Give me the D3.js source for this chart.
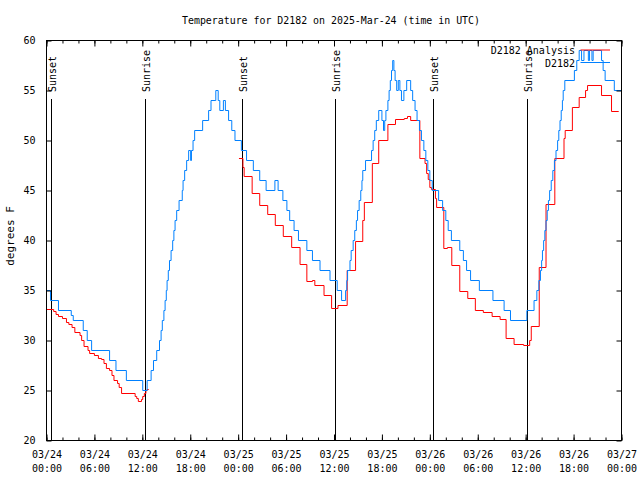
<!DOCTYPE html>
<html><head><meta charset="utf-8">
<script src="https://cdn.jsdelivr.net/npm/d3@7"></script>
<style>body{margin:0;background:#fff}</style>
</head><body>
<svg id="c" width="640" height="480"></svg>
<script>
const title = "Temperature for D2182 on 2025-Mar-24 (time in UTC)";
const yLabel = "degrees F";
const majorHours = [0,6,12,18,24,30,36,42,48,54,60,66,72];
const tickDates = ["03/24","03/24","03/24","03/24","03/25","03/25","03/25","03/25","03/26","03/26","03/26","03/26","03/27"];
const tickTimes = ["00:00","06:00","12:00","18:00","00:00","06:00","12:00","18:00","00:00","06:00","12:00","18:00","00:00"];
const yTicks = [20,25,30,35,40,45,50,55,60];
const sunNames = ["Sunset","Sunrise","Sunset","Sunrise","Sunset","Sunrise"];
const sunHours = [0.53,12.3,24.52,36.17,48.45,60.2];
const seriesNames = ["D2182 Analysis","D2182"];

// observed (hours since 03/24 00:00 UTC, deg F)
const obsHours = [0,0.5,1.5,3.1,3.35,4.6,5.1,5.65,7.9,8.7,10.0,12.05,12.6,13.1,13.4,13.8,14.15,14.35,14.5,14.7,14.85,15.0,15.1,15.25,15.4,15.6,15.8,15.95,16.1,16.3,16.6,17.0,17.1,17.3,17.55,17.8,18.05,18.15,18.35,18.55,19.55,20.3,20.6,21.2,21.5,21.7,22.15,22.4,22.8,23.2,23.6,24.4,25.05,25.9,26.7,27.5,28.6,29.0,29.6,30.1,30.45,31.0,31.55,32.6,33.3,34.25,35.5,36.4,36.95,37.45,37.6,37.7,38.0,38.15,38.4,38.6,38.8,38.95,39.15,39.35,39.5,39.6,39.95,40.7,40.9,41.1,41.3,41.6,42.0,42.2,42.35,42.5,42.75,42.9,43.05,43.2,43.35,43.5,43.65,43.85,44.05,44.25,44.45,44.75,45.1,45.6,45.85,46.15,46.4,46.7,46.95,47.25,47.5,47.75,48.0,48.3,49.1,49.6,50.0,50.3,50.7,51.75,52.2,52.6,53.1,54.2,55.9,57.3,58.1,60.15,61.05,61.4,61.65,61.85,62.0,62.1,62.25,62.4,62.55,62.7,62.85,63.0,63.2,63.4,63.6,63.8,64.0,64.15,64.3,64.45,64.6,64.7,64.9,66.1,66.4,66.7,67.0,67.3,67.85,68.0,68.3,68.45,69.5,69.7,69.95,71.1,72];
const obsTemps = [35,34,33,32.5,32,31,30,29,28,27,26,25,26,27,28,29,30,31,32,33,34,35,36,37,38,39,40,41,42,43,44,45,46,47,48,49,48,49,50,51,52,53,54,55,54,53,54,53,52,51,50,49,48,47,46,45,46,45,44,43,42,41,40,39,38,37,36,35,34,35,36,37,38,39,40,41,42,43,44,45,46,47,48,49,50,51,52,53,52,51,52,53,54,55,56,57,58,57,56,55,56,55,54,55,56,55,54,53,52,51,50,49,48,47,46,45,44,43,42,41,40,39,38,37,36,35,34,33,32,33,34,35,36,37,38,39,40,41,42,43,44,45,46,47,48,49,50,51,52,53,54,55,56,57,58,59,58,59,58,59,58,59,58,57,56,55,55];

// analysis (null = gap)
const anaHours = [0,0.9,1.2,1.5,2.0,2.5,2.8,3.2,3.55,4.2,4.4,4.7,5.2,5.4,6.0,6.5,6.9,7.2,7.5,7.9,8.2,8.45,8.9,9.1,9.4,11.1,11.3,11.5,11.9,12.05,12.25,12.45,12.6,12.8,13,
  24.1,24.6,24.75,25.75,26.7,27.7,28.65,29.65,30.7,31.75,32.6,33.3,33.6,34.75,35.7,36.5,37.65,38.7,39.6,39.8,40.8,41.6,42.75,43.7,44.8,45.2,45.6,46.75,47.4,47.6,47.8,48.0,48.2,48.7,48.85,49.75,50.2,50.75,51.75,52.75,53.7,54.7,55.8,56.8,57.55,58.55,59.75,60.5,60.7,61.7,62.55,63.65,64.8,64.95,65.85,66.7,67.5,67.75,69.5,70.75,71.65];
const anaTemps = [33.1,32.9,32.6,32.4,32.2,31.8,31.6,31.3,30.8,30.5,30.0,29.4,29.0,28.7,28.5,28.2,28.1,27.7,27.2,27.0,26.5,26.0,25.7,25.3,24.7,24.4,24.2,23.9,24.1,24.4,24.7,25.0,25.1,25.1,null,
  48.2,47.3,46.4,44.7,43.5,42.6,41.5,40.4,39.3,37.6,35.9,36.0,35.5,34.5,33.2,33.5,37.0,39.9,42.0,43.8,47.7,50.0,51.6,52.1,52.2,52.4,52.0,48.2,47.7,46.7,46.1,45.3,45.1,44.2,43.3,39.2,39.3,37.5,34.9,34.2,33.0,32.8,32.4,32.1,30.2,29.6,29.5,30.0,31.4,37.3,43.6,48.2,50.2,51.0,53.3,54.3,55.0,55.5,54.5,52.9,52.9];

const colors = {ana: "#ff0000", obs: "#0080ff"};
const FONT = "'DejaVu Sans Mono', monospace";

const svg = d3.select("#c");
const L = 46.5, R = 621.5, T = 40.5, B = 440.5;
const x = d3.scaleLinear().domain([0,72]).range([L,R]);
const y = d3.scaleLinear().domain([20,60]).range([B,T]);

// title
svg.append("text").attr("x", 331).attr("y", 24).attr("text-anchor","middle")
  .attr("font-family", FONT).attr("font-size", 10).attr("textLength", 298)
  .attr("lengthAdjust","spacingAndGlyphs").text(title);

// y label
svg.append("text").attr("transform","translate(14,236) rotate(-90)")
  .attr("text-anchor","middle").attr("font-family", FONT).attr("font-size", 11)
  .text(yLabel);

// sun lines
const sun = svg.append("g");
sun.selectAll("line").data(sunHours).join("line")
  .attr("x1", d => Math.round(x(d))+0.5).attr("x2", d => Math.round(x(d))+0.5)
  .attr("y1", 99).attr("y2", B).attr("stroke","#000").attr("stroke-width",1);
sun.selectAll("text").data(sunHours).join("text")
  .attr("transform", d => `translate(${Math.round(x(d))+5},92) rotate(-90)`)
  .attr("font-family", FONT).attr("font-size", 10)
  .text((d,i) => sunNames[i]);

// data lines
const anaData = anaHours.map((h,i) => ({h, t: anaTemps[i]}));
const obsData = obsHours.map((h,i) => ({h, t: obsTemps[i]}));
const line = d3.line().defined(d => d.t !== null).x(d => x(d.h)).y(d => y(d.t)).curve(d3.curveStepAfter);
svg.append("path").datum(anaData).attr("d", line).attr("fill","none")
  .attr("stroke", colors.ana).attr("stroke-width", 1);
svg.append("path").datum(obsData).attr("d", line).attr("fill","none")
  .attr("stroke", colors.obs).attr("stroke-width", 1);

// axes
function styleAxis(g){
  g.select(".domain").remove();
  g.selectAll("line").attr("stroke","#000");
  g.selectAll("text").attr("font-family", FONT).attr("font-size", 10).attr("fill","#000");
}
const minorHours = d3.range(0,73,2);
svg.append("g").attr("transform",`translate(0,${B})`)
  .call(d3.axisBottom(x).tickValues(minorHours).tickSizeInner(-3).tickSizeOuter(0).tickFormat(""))
  .call(styleAxis);
const bx = svg.append("g").attr("transform",`translate(0,${B})`)
  .call(d3.axisBottom(x).tickValues(majorHours).tickSizeInner(-6).tickSizeOuter(0).tickFormat(""))
  .call(styleAxis);
bx.selectAll(".tick").each(function(d,i){
  const t = d3.select(this).append("text").attr("text-anchor","middle")
    .attr("font-family", FONT).attr("font-size", 10).attr("fill","#000");
  t.append("tspan").attr("x",0).attr("y",17).text(tickDates[i]);
  t.append("tspan").attr("x",0).attr("y",31).text(tickTimes[i]);
});
svg.append("g").attr("transform",`translate(0,${T})`)
  .call(d3.axisTop(x).tickValues(minorHours).tickSizeInner(-3).tickSizeOuter(0).tickFormat(""))
  .call(styleAxis);
svg.append("g").attr("transform",`translate(0,${T})`)
  .call(d3.axisTop(x).tickValues(majorHours).tickSizeInner(-6).tickSizeOuter(0).tickFormat(""))
  .call(styleAxis);
svg.append("g").attr("transform",`translate(${L},0)`)
  .call(d3.axisLeft(y).tickValues(yTicks).tickSizeInner(-5).tickSizeOuter(0).tickPadding(11).tickFormat(d3.format("d")))
  .call(styleAxis);
svg.append("g").attr("transform",`translate(${R},0)`)
  .call(d3.axisRight(y).tickValues(yTicks).tickSizeInner(-5).tickSizeOuter(0).tickFormat(""))
  .call(styleAxis);

// frame
svg.append("rect").attr("x",L).attr("y",T).attr("width",R-L).attr("height",B-T)
  .attr("fill","none").attr("stroke","#000").attr("stroke-width",1);

// legend
const leg = svg.append("g");
const legY = [50, 62.5];
const legCols = [colors.ana, colors.obs];
seriesNames.forEach((n,i) => {
  leg.append("text").attr("x",575).attr("y",legY[i]+4).attr("text-anchor","end")
    .attr("font-family", FONT).attr("font-size",10).text(n);
  leg.append("line").attr("x1",580.5).attr("x2",610).attr("y1",legY[i]).attr("y2",legY[i])
    .attr("stroke",legCols[i]).attr("stroke-width",1);
});
</script>
</body></html>
